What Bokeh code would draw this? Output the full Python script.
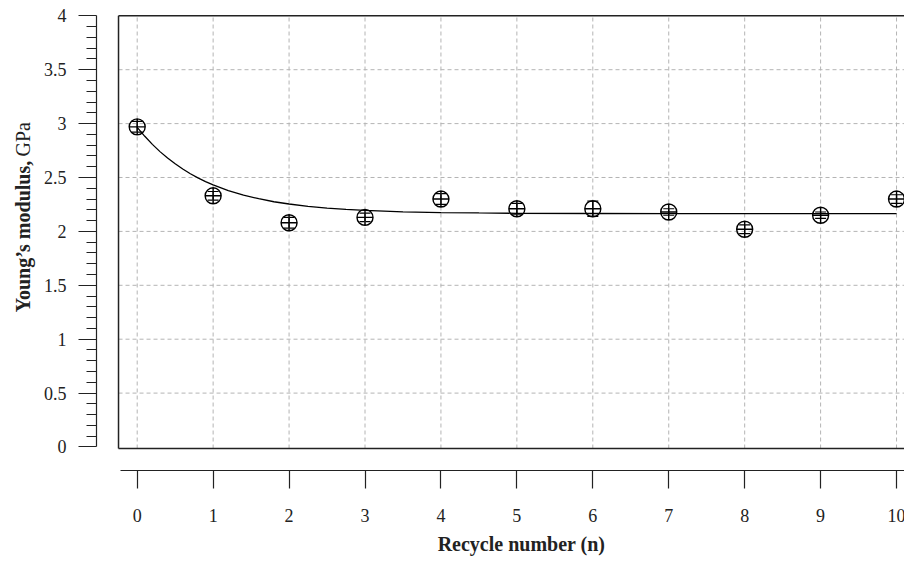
import math
from bokeh.plotting import figure
from bokeh.layouts import row, column
from bokeh.models import Range1d, FixedTicker, Whisker, ColumnDataSource, TeeHead
from bokeh.core.properties import value
from bokeh.embed import file_html
from bokeh.resources import INLINE

# ---- data ----
cycles = [0, 1, 2, 3, 4, 5, 6, 7, 8, 9, 10]
modulus = [2.97, 2.33, 2.08, 2.13, 2.30, 2.21, 2.21, 2.18, 2.02, 2.15, 2.30]
modulus_err = [0.05, 0.04, 0.05, 0.04, 0.05, 0.05, 0.07, 0.03, 0.04, 0.03, 0.04]

fit_x = [0, 0.1, 0.2, 0.3, 0.4, 0.5, 0.6, 0.7, 0.8, 0.9, 1.0, 1.2, 1.4, 1.6, 1.8,
         2.0, 2.25, 2.5, 2.75, 3, 3.5, 4, 4.5, 5, 6, 7, 8, 9, 10]
fit_y = [2.965, 2.882, 2.807, 2.740, 2.680, 2.627, 2.579, 2.535, 2.497, 2.462, 2.431,
         2.379, 2.337, 2.303, 2.275, 2.254, 2.232, 2.216, 2.204, 2.195, 2.182, 2.175,
         2.171, 2.168, 2.166, 2.165, 2.165, 2.165, 2.165]

x_ticks = [0, 1, 2, 3, 4, 5, 6, 7, 8, 9, 10]
x_tick_labels = ["0", "1", "2", "3", "4", "5", "6", "7", "8", "9", "10"]
y_ticks = [0, 0.5, 1, 1.5, 2, 2.5, 3, 3.5, 4]
y_tick_labels = ["0", "0.5", "1", "1.5", "2", "2.5", "3", "3.5", "4"]
y_minor_ticks = [0.1, 0.2, 0.3, 0.4, 0.6, 0.7, 0.8, 0.9, 1.1, 1.2, 1.3, 1.4,
                 1.6, 1.7, 1.8, 1.9, 2.1, 2.2, 2.3, 2.4, 2.6, 2.7, 2.8, 2.9,
                 3.1, 3.2, 3.3, 3.4, 3.6, 3.7, 3.8, 3.9]
y_grid = [0.5, 1, 1.5, 2, 2.5, 3, 3.5]

x_title = "Recycle number (n)"
y_title_bold = "Young\u2019s modulus,"
y_title_unit = "GPa"

FONT = "Liberation Serif"
INK = "#222222"

X0, X1 = -0.536, 10.118
Y0, Y1 = -0.218, 4.012
BOX_L, BOX_B, BOX_T = -0.246, -0.014, 4.0

LEFT_W = 40
MAIN_H = 530
BOTTOM_H = 31


def bare(fig):
    fig.outline_line_color = None
    fig.xgrid.visible = False
    fig.ygrid.visible = False
    fig.background_fill_color = "white"
    fig.border_fill_color = "white"


p = figure(frame_width=809, frame_height=456,
           x_range=Range1d(X0, X1), y_range=Range1d(Y0, Y1),
           output_backend="svg", toolbar_location=None,
           min_border_left=95 - LEFT_W, min_border_right=0, min_border_top=14,
           min_border_bottom=MAIN_H - 14 - 456)
bare(p)

# axes
xa = p.xaxis[0]
xa.ticker = FixedTicker(ticks=x_ticks)
xa.major_label_overrides = {t: l for t, l in zip(x_ticks, x_tick_labels)}
xa.bounds = (-0.22, X1)
xa.axis_line_color = INK
xa.axis_line_width = 1.2
xa.major_tick_line_color = INK
xa.major_tick_line_width = 1.2
xa.major_tick_in = 0
xa.major_tick_out = 18
xa.minor_tick_line_color = None
xa.major_label_standoff = 20
xa.major_label_text_font = FONT
xa.major_label_text_font_size = "18px"
xa.major_label_text_color = INK

ya = p.yaxis[0]
ya.ticker = FixedTicker(ticks=y_ticks, minor_ticks=y_minor_ticks)
ya.major_label_overrides = {t: l for t, l in zip(y_ticks, y_tick_labels)}
ya.bounds = (0, 4)
ya.axis_line_color = INK
ya.axis_line_width = 1.2
ya.major_tick_line_color = INK
ya.major_tick_line_width = 1.2
ya.major_tick_in = 0
ya.major_tick_out = 18
ya.minor_tick_line_color = INK
ya.minor_tick_line_width = 1.2
ya.minor_tick_in = 0
ya.minor_tick_out = 10
ya.major_label_standoff = 12
ya.major_label_text_font = FONT
ya.major_label_text_font_size = "18px"
ya.major_label_text_color = INK

# dashed grid inside the box
p.segment(x0=x_ticks, y0=[BOX_B] * len(x_ticks), x1=x_ticks, y1=[BOX_T] * len(x_ticks),
          line_color="#b4b4b4", line_width=1, line_dash="4 3")
p.segment(x0=[BOX_L] * len(y_grid), y0=y_grid, x1=[X1] * len(y_grid), y1=y_grid,
          line_color="#b4b4b4", line_width=1, line_dash="4 3")

# box
p.segment(x0=[BOX_L, BOX_L, BOX_L], y0=[BOX_B, BOX_T, BOX_B],
          x1=[BOX_L, X1, X1], y1=[BOX_T, BOX_T, BOX_B],
          line_color=INK, line_width=1.5)

# fit curve
p.line(fit_x, fit_y, line_color="black", line_width=1.3)

# error bars
src = ColumnDataSource(dict(
    x=cycles, y=modulus,
    upper=[m + e for m, e in zip(modulus, modulus_err)],
    lower=[m - e for m, e in zip(modulus, modulus_err)],
))
p.add_layout(Whisker(source=src, base="x", upper="upper", lower="lower",
                     line_color="black", line_width=1.2,
                     upper_head=TeeHead(size=11, line_color="black", line_width=1.2),
                     lower_head=TeeHead(size=11, line_color="black", line_width=1.2)))

p.scatter("x", "y", source=src, marker="circle_cross", size=16,
          fill_color=None, line_color="black", line_width=1.4)

# ---- y title strip (left) ----
yf = figure(width=LEFT_W, height=MAIN_H, x_range=Range1d(0, LEFT_W), y_range=Range1d(0, MAIN_H),
            x_axis_location=None, y_axis_location=None, min_border=0,
            output_backend="svg", toolbar_location=None)
bare(yf)
yf.text(x=[22], y=[MAIN_H - 170], text=[y_title_bold], angle=math.pi / 2,
        text_align="right", text_baseline="middle", text_font=value(FONT),
        text_font_style="bold", text_font_size="20px", text_color=INK)
yf.text(x=[22], y=[MAIN_H - 165], text=[y_title_unit], angle=math.pi / 2,
        text_align="left", text_baseline="middle", text_font=value(FONT),
        text_font_style="normal", text_font_size="20px", text_color=INK)

# ---- x title strip (bottom) ----
xf = figure(width=LEFT_W + 864, height=BOTTOM_H, x_range=Range1d(0, LEFT_W + 864),
            y_range=Range1d(0, BOTTOM_H), x_axis_location=None, y_axis_location=None,
            min_border=0, output_backend="svg", toolbar_location=None)
bare(xf)
xf.text(x=[521], y=[BOTTOM_H - (543 - MAIN_H)], text=[x_title],
        text_align="center", text_baseline="middle", text_font=value(FONT),
        text_font_style="bold", text_font_size="20px", text_color=INK)

layout = column(row(yf, p, spacing=0), xf, spacing=0)
open("out.html", "w").write(file_html(layout, INLINE))
